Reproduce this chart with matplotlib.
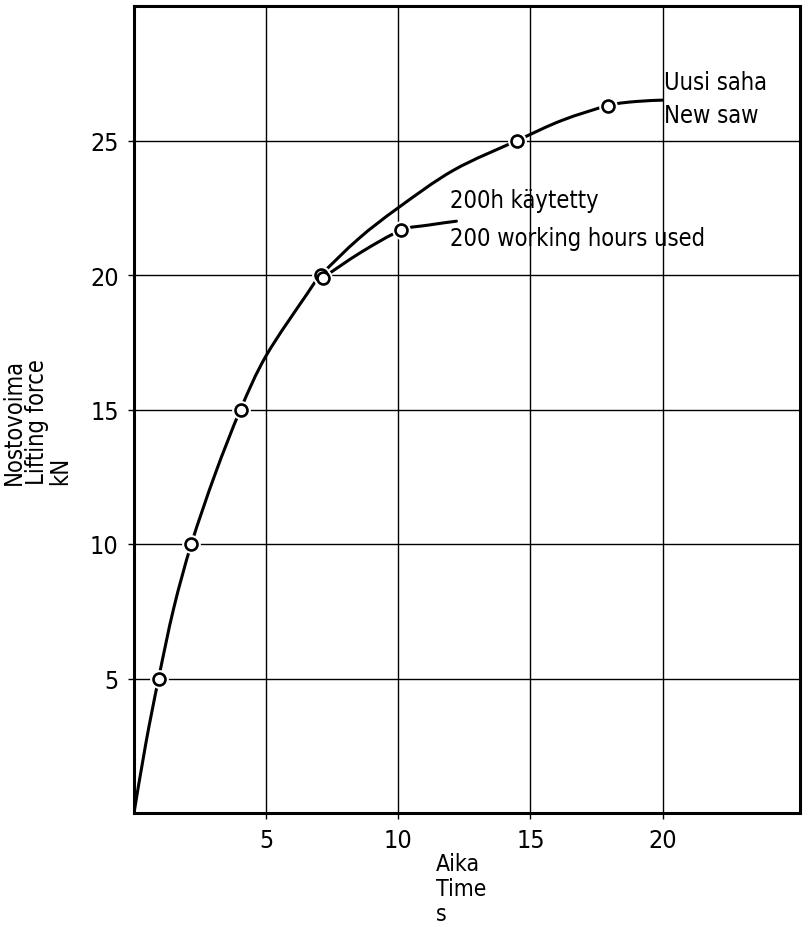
import matplotlib
matplotlib.use("Agg")
import matplotlib.pyplot as plt
import numpy as np
from matplotlib import font_manager
from matplotlib.path import Path
from matplotlib.patches import PathPatch

# values
# circles on the curves
new_saw_t = [0.93, 2.17, 4.03, 7.08, 14.5, 17.95]
new_saw_f = [5, 10, 15, 20, 25, 26.3]
used_t = [7.15, 10.1]
used_f = [19.9, 21.66]

# traced line of each curve
new_curve_t = [0, 0.45, 0.93, 1.5, 2.17, 3.07, 4.03, 5.0, 6.55, 7.08, 8.5,
               10.0, 12.1, 14.5, 16.2, 17.95, 19.0, 20.0]
new_curve_f = [0, 2.6, 5, 7.6, 10, 12.6, 15, 17.0, 19.3, 20, 21.35,
               22.5, 23.9, 25.0, 25.75, 26.3, 26.45, 26.5]
used_curve_t = [7.15, 8.6, 10.1, 11.1, 12.2]
used_curve_f = [19.9, 20.85, 21.66, 21.85, 22.0]

x_ticks = [5, 10, 15, 20]
y_ticks = [5, 10, 15, 20, 25]


def smooth_path(xs, ys):
    # catmull-rom through the traced points, as bezier pieces
    p = np.column_stack([xs, ys]).astype(float)
    p = np.vstack([p[0], p, p[-1]])
    verts = [p[1]]
    codes = [Path.MOVETO]
    for i in range(1, len(p) - 2):
        c1 = p[i] + (p[i + 1] - p[i - 1]) / 6
        c2 = p[i + 1] - (p[i + 2] - p[i]) / 6
        verts += [c1, c2, p[i + 1]]
        codes += [Path.CURVE4] * 3
    return Path(verts, codes)


# narrow lettering if a condensed face is around
fonts = {(f.name, f.stretch) for f in font_manager.fontManager.ttflist}
if any(n == 'DejaVu Sans' and s == 'condensed' for n, s in fonts):
    plt.rcParams['font.family'] = 'DejaVu Sans'
    plt.rcParams['font.stretch'] = 'condensed'
elif any(n == 'Liberation Sans Narrow' for n, s in fonts):
    plt.rcParams['font.family'] = 'Liberation Sans Narrow'
else:
    plt.rcParams['font.family'] = 'DejaVu Sans'

fig = plt.figure(figsize=(8.08, 9.28), dpi=100)
ax = fig.add_axes([134 / 808, 114 / 928, 666 / 808, 807 / 928])

for t, f in [(new_curve_t, new_curve_f), (used_curve_t, used_curve_f)]:
    ax.add_patch(PathPatch(smooth_path(t, f), fill=False, ec='black', lw=2.2,
                           capstyle='round', zorder=2))

# small gap in the line around each circle
for t, f in [(new_saw_t, new_saw_f), (used_t, used_f)]:
    ax.plot(t, f, ls='none', marker='o', ms=13.5, mfc='white', mec='none',
            zorder=2.2)
for t, f in [(new_saw_t, new_saw_f), (used_t, used_f)]:
    ax.plot(t, f, ls='none', marker='o', ms=8.6, mfc='white', mec='black',
            mew=1.9, zorder=3)

ax.set_xlim(0, 25.2)
ax.set_ylim(0, 30)
ax.set_xticks(x_ticks)
ax.set_yticks(y_ticks)
ax.grid(True, color='black', lw=1.0)
ax.tick_params(length=4, width=1.0, pad=7, labelsize=18)
for sp in ax.spines.values():
    sp.set_linewidth(2.2)

ax.text(20.05, 27.16, 'Uusi saha', fontsize=17, ha='left', va='center')
ax.text(20.05, 25.93, 'New saw', fontsize=17, ha='left', va='center')
ax.text(11.97, 22.77, '200h käytetty', fontsize=17, ha='left', va='center')
ax.text(11.97, 21.39, '200 working hours used', fontsize=17, ha='left',
        va='center')

fig.text(436 / 808, 1 - 853 / 928, 'Aika\nTime\ns', fontsize=16.5,
         ha='left', va='top', linespacing=1.12)
fig.text(37 / 808, 1 - 485 / 928, 'Nostovoima\nLifting force\nkN',
         fontsize=17, rotation=90, ha='center', va='bottom',
         multialignment='left', linespacing=0.95)

plt.savefig('out.png', dpi=100)
